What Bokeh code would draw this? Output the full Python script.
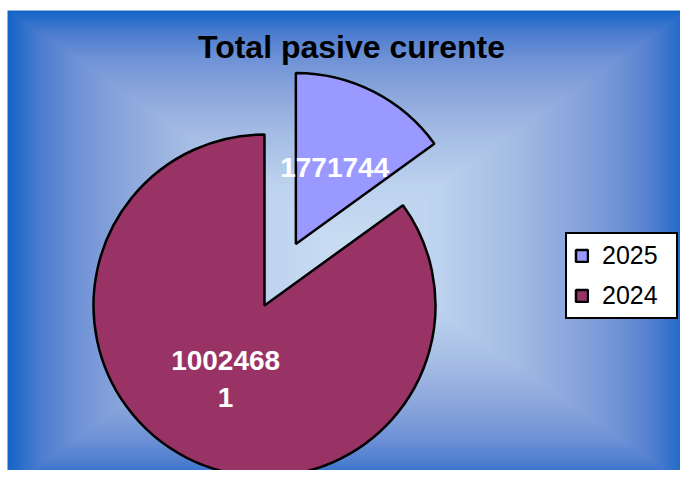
import math
import numpy as np
from bokeh.plotting import figure
from bokeh.models import ColumnDataSource, Legend, LegendItem, Label, Range1d
from bokeh.core.properties import value
from bokeh.embed import file_html
from bokeh.resources import INLINE

# ---- data ----
title_text = "Total pasive curente"
categories = ["2025", "2024"]
values = [1771744, 10024681]
label_texts = ["1771744", "1002468\n1"]
colors = ["#9999FF", "#993366"]

# ---- style / layout ----
W, H = 680, 470
FONT = "Liberation Sans"
pie_cx, pie_cy, pie_r = 264, 165, 171
explode = [69, 0]

# background rectangular gradient (center -> edge)
g_cx, g_cy, g_hx, g_hy = 348, 222, 341, 238
bg_left, bg_top = 7, 460
stops_t = [0.0, 0.27, 0.5, 0.68, 0.8, 0.9, 1.0]
stops_c = [(202, 222, 243), (188, 210, 238), (163, 186, 227), (135, 163, 219),
           (111, 146, 214), (79, 126, 207), (21, 101, 200)]

p = figure(width=W, height=H, x_range=Range1d(0, W), y_range=Range1d(0, H),
           output_backend="svg", toolbar_location=None, min_border=0,
           x_axis_location=None, y_axis_location=None)
p.grid.visible = False
p.outline_line_color = None
p.background_fill_color = "white"
p.border_fill_color = "white"

# gradient as nested rectangles
N = 140
ts = np.linspace(1.0, 0.0, N, endpoint=False)
def col(t):
    r = np.interp(t, stops_t, [c[0] for c in stops_c])
    g = np.interp(t, stops_t, [c[1] for c in stops_c])
    b = np.interp(t, stops_t, [c[2] for c in stops_c])
    return "#%02x%02x%02x" % (int(round(r)), int(round(g)), int(round(b)))
left = [g_cx - t * g_hx for t in ts]
right = [g_cx + t * g_hx for t in ts]
bottom = [g_cy - t * g_hy for t in ts]
top = [g_cy + t * g_hy for t in ts]
left[0], right[0], bottom[0], top[0] = bg_left, W + 20, -30, bg_top
gsrc = ColumnDataSource(dict(left=left, right=right, bottom=bottom, top=top,
                             color=[col(t) for t in ts]))
p.quad(left="left", right="right", bottom="bottom", top="top", source=gsrc,
       fill_color="color", line_color=None)

# pie geometry from values
total = float(sum(values))
fr = [v / total for v in values]
cum = np.concatenate([[0.0], np.cumsum(fr)])
start = [math.radians(90 - 360 * cum[i]) for i in range(len(values))]
end = [math.radians(90 - 360 * cum[i + 1]) for i in range(len(values))]
mid = [(s + e) / 2 for s, e in zip(start, end)]
xs = [pie_cx + explode[i] * math.cos(mid[i]) for i in range(len(values))]
ys = [pie_cy + explode[i] * math.sin(mid[i]) for i in range(len(values))]
lx = [xs[i] + 0.5 * pie_r * math.cos(mid[i]) for i in range(len(values))]
ly = [ys[i] + 0.5 * pie_r * math.sin(mid[i]) + (3 if i == 1 else 0)
      for i in range(len(values))]

src = ColumnDataSource(dict(x=xs, y=ys, start=start, end=end, color=colors,
                            cat=categories, lx=lx, ly=ly, lab=label_texts))
wr = p.wedge(x="x", y="y", radius=pie_r, start_angle="start", end_angle="end",
             direction="clock", fill_color="color", line_color="black",
             line_width=2.5, source=src)

p.text(x="lx", y="ly", text="lab", source=src, text_align="center",
       text_baseline="middle", text_color="white", text_font=value(FONT),
       text_font_style="bold", text_font_size="28px", text_line_height=1.2)

p.add_layout(Label(x=351, y=424, text=title_text, text_align="center",
                   text_baseline="alphabetic", text_font=FONT,
                   text_font_style="bold", text_font_size="32px",
                   text_color="black"))

legend = Legend(items=[LegendItem(label=categories[i], renderers=[wr], index=i)
                       for i in range(len(categories))],
                location=(565, 151), border_line_color="black",
                border_line_width=2, border_line_alpha=1.0,
                background_fill_color="white",
                background_fill_alpha=1.0, label_text_font=FONT,
                label_text_color="black",
                label_text_font_size="25px", glyph_width=15, glyph_height=15,
                label_standoff=13, padding=7, spacing=11, margin=0,
                label_width=67)
p.add_layout(legend)

open("out.html", "w").write(file_html(p, INLINE))
